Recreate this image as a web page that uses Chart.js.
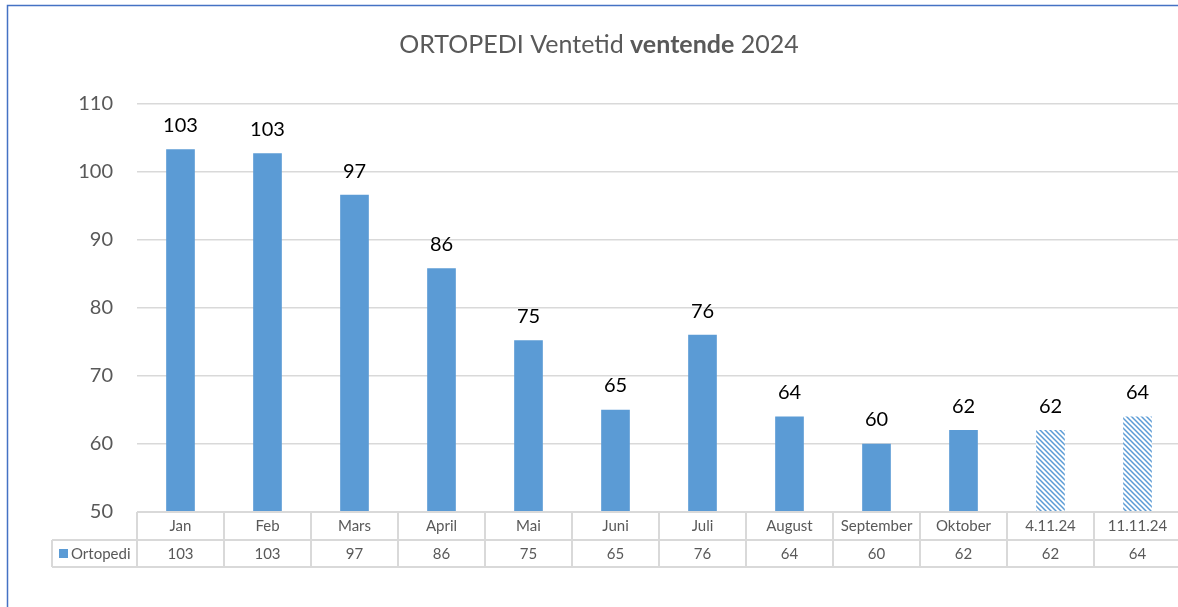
<!DOCTYPE html>
<html lang="no">
<head>
<meta charset="UTF-8" />
<title>ORTOPEDI Ventetid ventende 2024</title>
<script src="https://cdn.jsdelivr.net/npm/chart.js@4.4.1/dist/chart.umd.min.js"></script>
<style>
  html, body { margin: 0; padding: 0; background: #fff; overflow: hidden; }
  #wrap { position: relative; width: 1195px; height: 607px; }
</style>
</head>
<body>
<div id="wrap"><canvas id="chart"></canvas></div>
<script>
// data
const months = ['Jan', 'Feb', 'Mars', 'April', 'Mai', 'Juni', 'Juli', 'August', 'September', 'Oktober', '4.11.24', '11.11.24'];
const ortopedi = [103.3, 102.7, 96.6, 85.8, 75.2, 65, 76, 64, 60, 62, 62, 64];
const hatched = [false, false, false, false, false, false, false, false, false, false, true, true];
const yTicks = [50, 60, 70, 80, 90, 100, 110];
const seriesName = 'Ortopedi';

const FONT = 'Lato, "Open Sans", "Liberation Sans", sans-serif';
const BLUE = '#5b9bd5';
const GREY = '#595959';
const LINE = '#d9d9d9';

function makeHatch() {
  const c = document.createElement('canvas');
  c.width = 5; c.height = 5;
  const g = c.getContext('2d');
  g.fillStyle = '#fff';
  g.fillRect(0, 0, 5, 5);
  g.strokeStyle = BLUE;
  g.lineWidth = 1.5;
  g.beginPath();
  g.moveTo(-1, -1); g.lineTo(6, 6);
  g.moveTo(-1, 4); g.lineTo(1, 6);
  g.moveTo(4, -1); g.lineTo(6, 1);
  g.stroke();
  return g.createPattern(c, 'repeat');
}
const hatch = makeHatch();

// title, frame, value labels and the data table under the x axis
const extras = {
  id: 'extras',
  beforeDraw(chart) {
    const ctx = chart.ctx;
    ctx.save();
    ctx.strokeStyle = '#4472c4';
    ctx.lineWidth = 1.5;
    ctx.strokeRect(7.5, 5.5, 1300, 700);
    // title with bold word
    const parts = [['ORTOPEDI Ventetid ', 'normal'], ['ventende', 'bold'], [' 2024', 'normal']];
    let total = 0;
    parts.forEach(p => { ctx.font = p[1] + ' 25px ' + FONT; total += ctx.measureText(p[0]).width; });
    let x = 599 - total / 2;
    ctx.fillStyle = GREY;
    ctx.textBaseline = 'middle';
    ctx.textAlign = 'left';
    parts.forEach(p => {
      ctx.font = p[1] + ' 25px ' + FONT;
      ctx.fillText(p[0], x, 45);
      x += ctx.measureText(p[0]).width;
    });
    ctx.restore();
  },
  afterDatasetsDraw(chart) {
    const ctx = chart.ctx;
    const meta = chart.getDatasetMeta(0);
    ctx.save();
    ctx.fillStyle = '#000';
    ctx.font = '20px ' + FONT;
    ctx.textAlign = 'center';
    ctx.textBaseline = 'middle';
    meta.data.forEach((bar, i) => {
      ctx.fillText(String(Math.round(ortopedi[i])), bar.x, bar.y - 24);
    });
    ctx.restore();
  },
  afterDraw(chart) {
    const ctx = chart.ctx;
    const area = chart.chartArea;
    const xs = chart.scales.x;
    const n = months.length;
    const w = (area.right - area.left) / n;
    const top = area.bottom;
    const mid = top + 28;
    const bot = mid + 27;
    const legL = 52;
    ctx.save();
    ctx.strokeStyle = LINE;
    ctx.lineWidth = 2;
    ctx.beginPath();
    ctx.moveTo(area.left, top); ctx.lineTo(area.right, top);
    ctx.moveTo(legL, mid); ctx.lineTo(area.right, mid);
    ctx.moveTo(legL, bot); ctx.lineTo(area.right, bot);
    ctx.moveTo(legL, mid); ctx.lineTo(legL, bot);
    for (let i = 0; i <= n; i++) {
      const bx = area.left + i * w;
      ctx.moveTo(bx, top); ctx.lineTo(bx, bot);
    }
    ctx.stroke();
    ctx.fillStyle = GREY;
    ctx.font = '15px ' + FONT;
    ctx.textAlign = 'center';
    ctx.textBaseline = 'middle';
    months.forEach((m, i) => {
      const cx = xs.getPixelForValue(i);
      ctx.fillText(m, cx, top + 14);
      ctx.fillText(String(Math.round(ortopedi[i])), cx, mid + 14);
    });
    // legend cell
    ctx.fillStyle = BLUE;
    ctx.fillRect(59, mid + 9, 9, 9);
    ctx.fillStyle = GREY;
    ctx.textAlign = 'left';
    ctx.fillText(seriesName, 71, mid + 14);
    ctx.restore();
  }
};

const ctx = document.getElementById('chart').getContext('2d');
new Chart(ctx, {
  type: 'bar',
  data: {
    labels: months,
    datasets: [{
      label: seriesName,
      data: ortopedi,
      backgroundColor: hatched.map(h => h ? hatch : BLUE),
      barThickness: 28
    }]
  },
  options: {
    responsive: true,
    maintainAspectRatio: false,
    animation: false,
    layout: { padding: { top: 104, bottom: 95, right: 14 } },
    plugins: { legend: { display: false }, tooltip: { enabled: false } },
    scales: {
      x: { display: false },
      y: {
        min: 50,
        max: 110,
        afterBuildTicks(scale) { scale.ticks = yTicks.map(v => ({ value: v })); },
        afterFit(scale) { scale.width = 137; },
        border: { display: false },
        grid: { color: LINE, lineWidth: 1.5, drawTicks: false },
        ticks: { color: GREY, font: { family: FONT, size: 20 }, padding: 24 }
      }
    }
  },
  plugins: [extras]
});
</script>
</body>
</html>
